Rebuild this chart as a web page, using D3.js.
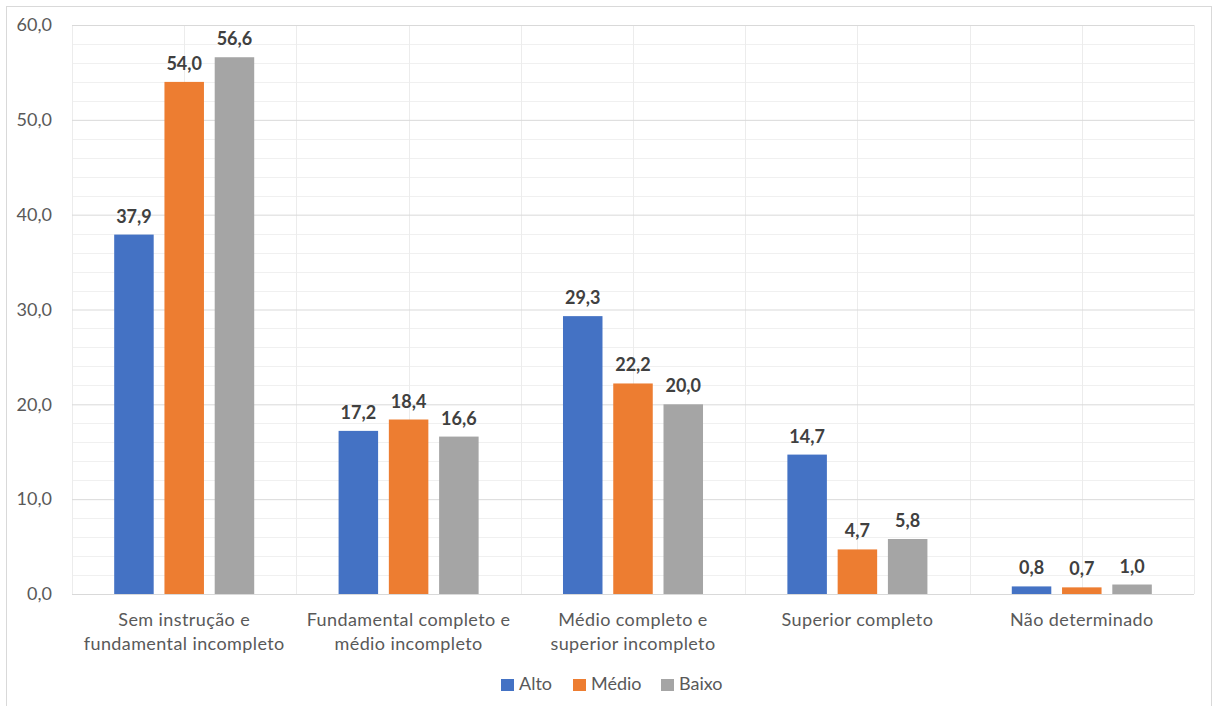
<!DOCTYPE html>
<html>
<head>
<meta charset="utf-8">
<script src="https://cdn.jsdelivr.net/npm/d3@7"></script>
<style>
  html, body { margin: 0; padding: 0; background: #fff; }
  svg { display: block; }
  text { font-family: Lato, "Open Sans", sans-serif; }
</style>
</head>
<body>
<svg id="chart" width="1213" height="706"></svg>
<script>
// Escolaridade por nível (%)
const categories = [
  ["Sem instrução e", "fundamental incompleto"],
  ["Fundamental completo e", "médio incompleto"],
  ["Médio completo e", "superior incompleto"],
  ["Superior completo"],
  ["Não determinado"]
];
const seriesNames = ["Alto", "Médio", "Baixo"];
const alto  = [37.9, 17.2, 29.3, 14.7, 0.8];
const medio = [54.0, 18.4, 22.2, 4.7, 0.7];
const baixo = [56.6, 16.6, 20.0, 5.8, 1.0];
const seriesValues = [alto, medio, baixo];
const colors = ["#4472C4", "#ED7D31", "#A5A5A5"];
const yTicks = [0, 10, 20, 30, 40, 50, 60];

const svg = d3.select("#chart");
const W = 1213, H = 706;
const plot = { left: 72, right: 1194, top: 25, bottom: 594 };

// chart frame
svg.append("rect")
  .attr("x", 6.5).attr("y", 6.5)
  .attr("width", 1205).attr("height", 720)
  .attr("fill", "#fff").attr("stroke", "#d9d9d9").attr("stroke-width", 1);

const catIdx = categories.map((d, i) => i);
const x0 = d3.scaleBand().domain(catIdx)
  .range([plot.left, plot.right]).paddingInner(0.376).paddingOuter(0.188);
const x1 = d3.scaleBand().domain(seriesNames)
  .range([0, x0.bandwidth()]).paddingInner(0.214);
const y = d3.scaleLinear().domain([0, 60]).range([plot.bottom, plot.top]);

const fmt = v => d3.format(".1f")(v).replace(".", ",");

// minor horizontal gridlines every 2
const minor = d3.range(2, 60, 2).filter(v => v % 10 !== 0);
svg.append("g").selectAll("line").data(minor).join("line")
  .attr("x1", plot.left).attr("x2", plot.right)
  .attr("y1", d => Math.round(y(d)) + 0.5).attr("y2", d => Math.round(y(d)) + 0.5)
  .attr("stroke", "#f0f0f0").attr("stroke-width", 1);

// vertical gridlines at category boundaries and centres
const half = (x0.step() - x0.bandwidth()) / 2;
const vlines = [];
catIdx.forEach(i => {
  vlines.push(x0(i) - half);
  vlines.push(x0(i) + x0.bandwidth() / 2);
});
vlines.push(plot.right);
svg.append("g").selectAll("line").data(vlines).join("line")
  .attr("x1", d => Math.round(d) + 0.5).attr("x2", d => Math.round(d) + 0.5)
  .attr("y1", plot.top).attr("y2", plot.bottom)
  .attr("stroke", "#ececec").attr("stroke-width", 1);

// major horizontal gridlines + y axis
const yAxis = d3.axisLeft(y).tickValues(yTicks).tickSize(-(plot.right - plot.left))
  .tickPadding(20).tickFormat(fmt);
const gy = svg.append("g").attr("transform", `translate(${plot.left},0)`).call(yAxis);
gy.select(".domain").remove();
gy.selectAll(".tick line").attr("stroke", "#d9d9d9");
gy.selectAll(".tick text")
  .attr("fill", "#595959").attr("font-size", 18).attr("font-family", "Lato, sans-serif");

// bars
const groups = svg.append("g").selectAll("g").data(catIdx).join("g")
  .attr("transform", i => `translate(${x0(i)},0)`);

groups.selectAll("rect")
  .data(i => seriesNames.map((s, k) => ({ s, k, v: seriesValues[k][i] })))
  .join("rect")
  .attr("x", d => x1(d.s))
  .attr("width", x1.bandwidth())
  .attr("y", d => y(d.v))
  .attr("height", d => y(0) - y(d.v))
  .attr("fill", d => colors[d.k]);

groups.selectAll("text.val")
  .data(i => seriesNames.map((s, k) => ({ s, k, v: seriesValues[k][i] })))
  .join("text")
  .attr("class", "val")
  .attr("x", d => x1(d.s) + x1.bandwidth() / 2)
  .attr("y", d => y(d.v) - 12)
  .attr("text-anchor", "middle")
  .attr("font-size", 18).attr("font-weight", "bold")
  .attr("fill", "#404040")
  .text(d => fmt(d.v));

// x axis baseline
svg.append("line")
  .attr("x1", plot.left).attr("x2", plot.right)
  .attr("y1", plot.bottom + 0.5).attr("y2", plot.bottom + 0.5)
  .attr("stroke", "#d9d9d9");

// category labels
const catLabels = svg.append("g").selectAll("text").data(catIdx).join("text")
  .attr("text-anchor", "middle")
  .attr("font-size", 18).attr("fill", "#595959")
  .attr("letter-spacing", 0.4)
  .attr("x", i => x0(i) + x0.bandwidth() / 2)
  .attr("y", 626);
catLabels.selectAll("tspan").data(i => categories[i]).join("tspan")
  .attr("x", function () { return d3.select(this.parentNode).attr("x"); })
  .attr("dy", (d, j) => j === 0 ? 0 : 24)
  .text(d => d);

// legend
const legendItems = [
  { name: "Alto", x: 501 },
  { name: "Médio", x: 573 },
  { name: "Baixo", x: 661 }
];
const lg = svg.append("g").selectAll("g").data(legendItems).join("g")
  .attr("transform", d => `translate(${d.x},679)`);
lg.append("rect").attr("width", 13).attr("height", 12)
  .attr("fill", (d, i) => colors[i]);
lg.append("text").attr("x", 18).attr("y", 11)
  .attr("font-size", 18).attr("fill", "#595959")
  .text(d => d.name);
</script>
</body>
</html>
